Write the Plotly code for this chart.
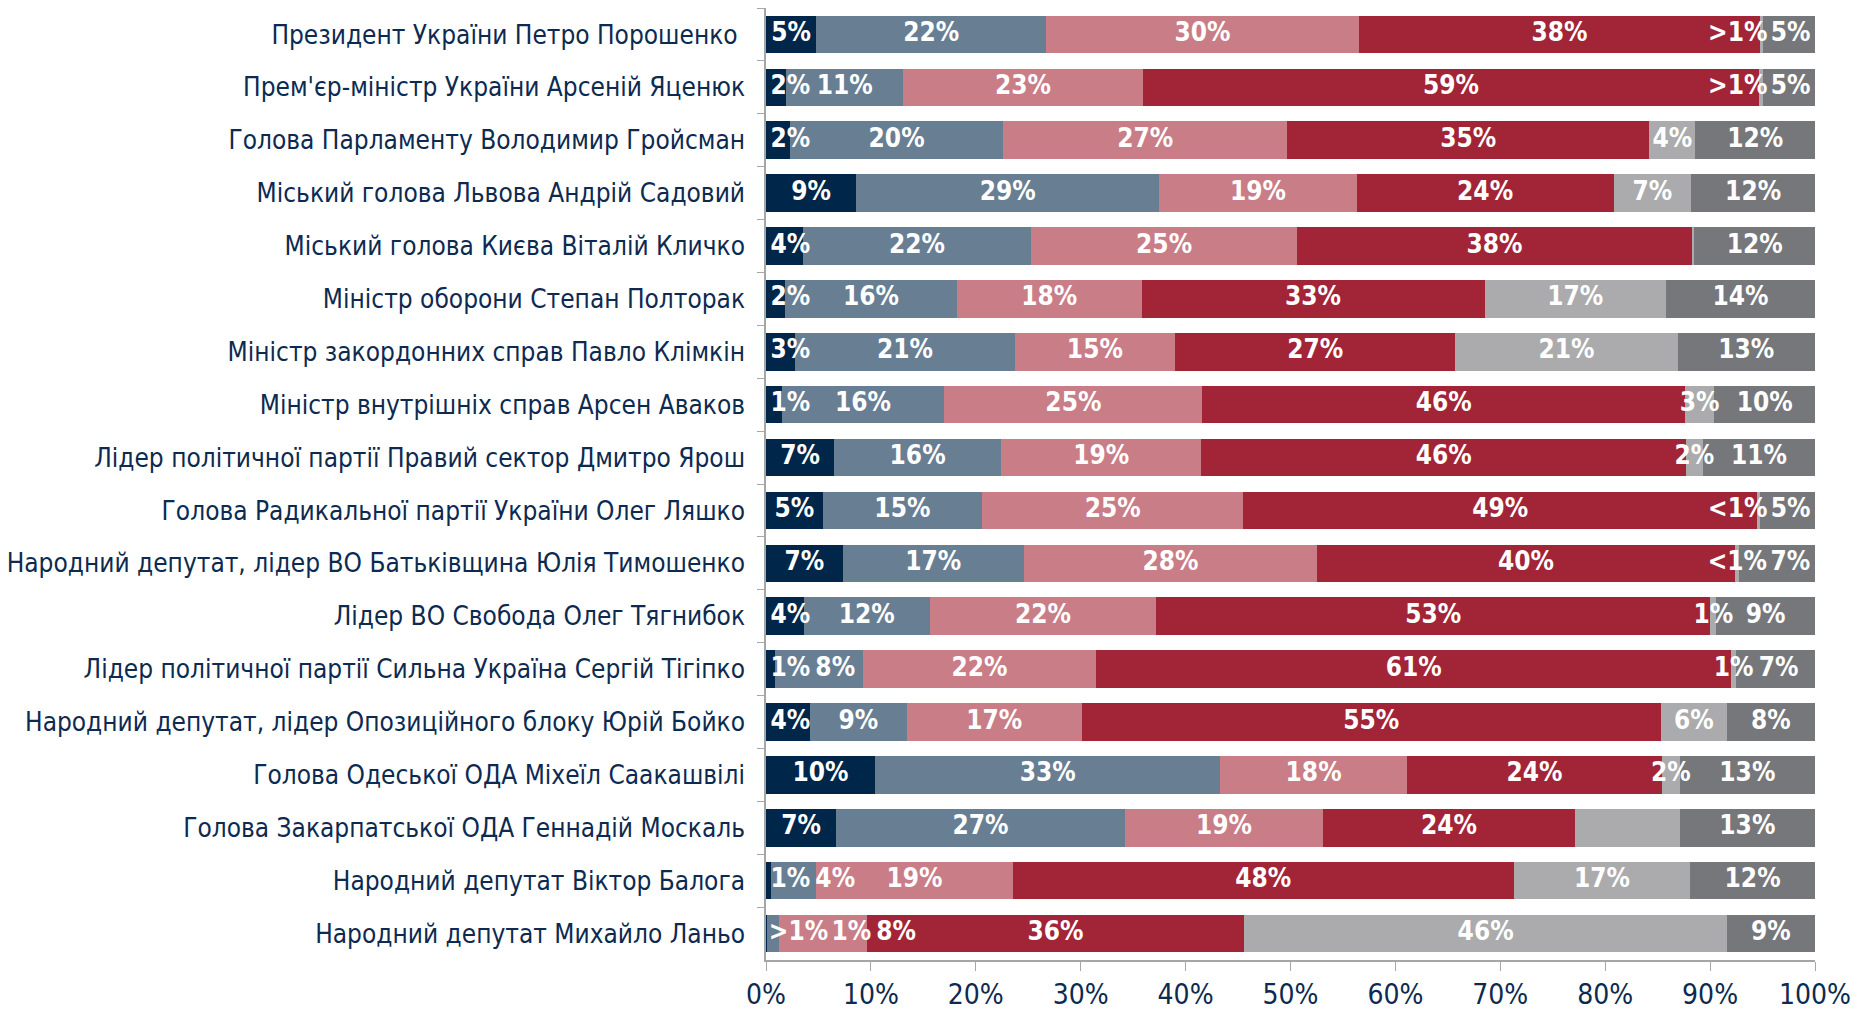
import plotly.graph_objects as go

categories = [
    "Президент України Петро Порошенко ",
    "Прем'єр-міністр України Арсеній Яценюк",
    "Голова Парламенту Володимир Гройсман",
    "Міський голова Львова Андрій Садовий",
    "Міський голова Києва Віталій Кличко",
    "Міністр оборони Степан Полторак",
    "Міністр закордонних справ Павло Клімкін",
    "Міністр внутрішніх справ Арсен Аваков",
    "Лідер політичної партії Правий сектор Дмитро Ярош",
    "Голова Радикальної партії України Олег Ляшко",
    "Народний депутат, лідер ВО Батьківщина Юлія Тимошенко",
    "Лідер ВО Свобода Олег Тягнибок",
    "Лідер політичної партії Сильна Україна Сергій Тігіпко",
    "Народний депутат, лідер Опозиційного блоку Юрій Бойко",
    "Голова Одеської ОДА Міхеїл Саакашвілі",
    "Голова Закарпатської ОДА Геннадій Москаль",
    "Народний депутат Віктор Балога",
    "Народний депутат Михайло Ланьо",
]

# segment shares (%)
s1 = [4.8, 1.9, 2.3, 8.6, 3.5, 1.8, 2.8, 1.5, 6.5, 5.4, 7.3, 3.6, 0.9, 4.2, 10.4, 6.7, 0.5, 0.1]
s2 = [21.9, 11.2, 20.3, 28.9, 21.8, 16.4, 20.9, 15.5, 15.9, 15.2, 17.3, 12.0, 8.3, 9.2, 32.9, 27.5, 4.3, 1.1]
s3 = [29.8, 22.8, 27.1, 18.8, 25.3, 17.6, 15.3, 24.6, 19.1, 24.9, 27.9, 21.6, 22.3, 16.7, 17.8, 18.9, 18.7, 8.4]
s4 = [38.3, 58.8, 34.5, 24.5, 37.7, 32.7, 26.7, 46.0, 46.2, 49.0, 39.9, 52.8, 60.5, 55.2, 24.3, 24.0, 47.8, 36.0]
s5 = [0.2, 0.3, 4.4, 7.4, 0.2, 17.3, 21.2, 2.8, 1.6, 0.3, 0.4, 0.6, 0.5, 6.3, 1.7, 10.0, 16.8, 46.0]
s6 = [5.0, 5.0, 11.4, 11.8, 11.5, 14.2, 13.1, 9.6, 10.7, 5.2, 7.2, 9.4, 7.5, 8.4, 12.9, 12.9, 11.9, 8.4]

t1 = ["5%", "2%", "2%", "9%", "4%", "2%", "3%", "1%", "7%", "5%", "7%", "4%", "1%", "4%", "10%", "7%", "1%", ">1%"]
t2 = ["22%", "11%", "20%", "29%", "22%", "16%", "21%", "16%", "16%", "15%", "17%", "12%", "8%", "9%", "33%", "27%", "4%", "1%"]
t3 = ["30%", "23%", "27%", "19%", "25%", "18%", "15%", "25%", "19%", "25%", "28%", "22%", "22%", "17%", "18%", "19%", "19%", "8%"]
t4 = ["38%", "59%", "35%", "24%", "38%", "33%", "27%", "46%", "46%", "49%", "40%", "53%", "61%", "55%", "24%", "24%", "48%", "36%"]
t5 = [">1%", ">1%", "4%", "7%", "", "17%", "21%", "3%", "2%", "<1%", "<1%", "1%", "1%", "6%", "2%", "", "17%", "46%"]
t6 = ["5%", "5%", "12%", "12%", "12%", "14%", "13%", "10%", "11%", "5%", "7%", "9%", "7%", "8%", "13%", "13%", "12%", "9%"]

tick_vals = [0, 10, 20, 30, 40, 50, 60, 70, 80, 90, 100]
tick_text = ["0%", "10%", "20%", "30%", "40%", "50%", "60%", "70%", "80%", "90%", "100%"]

colors = ["#00264a", "#687e93", "#c97d87", "#a22537", "#ababad", "#76777b"]
series = [s1, s2, s3, s4, s5, s6]
texts = [t1, t2, t3, t4, t5, t6]

CAT_FONT = "DejaVu Sans Condensed, Liberation Sans Narrow, Arial Narrow, DejaVu Sans, sans-serif"
LABEL_SIZE = 26

# layout geometry
W, H = 1852, 1012
ML, MR, MT, MB = 766, 37, 8, 52
XMAX = 100.0
PX_PER_UNIT = (W - ML - MR) / XMAX


def text_width(s):
    # rough width estimate (px) of a bold condensed label
    w = 0.0
    for ch in s:
        w += 0.95 * LABEL_SIZE if ch == "%" else 0.62 * LABEL_SIZE
    return w


fig = go.Figure()
for vals, col in zip(series, colors):
    fig.add_trace(go.Bar(
        y=categories, x=vals, orientation="h",
        marker=dict(color=col, line=dict(width=0)),
        hoverinfo="skip", showlegend=False,
    ))

# label placement: start from segment mid-points, then push apart so labels don't collide
lab_x, lab_y, lab_t = [], [], []
gap = 4.0
for i, cat in enumerate(categories):
    starts, pos = [], 0.0
    for s in series:
        starts.append(pos)
        pos += s[i]
    items = []
    for k, (s, t) in enumerate(zip(series, texts)):
        if t[i]:
            items.append([(starts[k] + s[i] / 2.0) * PX_PER_UNIT, text_width(t[i]) / 2.0, t[i]])
    prev_right = 0.0
    for it in items:
        it[0] = max(it[0], prev_right + it[1] + gap)
        prev_right = it[0] + it[1]
    next_left = XMAX * PX_PER_UNIT
    for it in reversed(items):
        it[0] = min(it[0], next_left - it[1] - gap)
        next_left = it[0] - it[1]
    for cx, hw, t in items:
        lab_x.append(cx / PX_PER_UNIT)
        lab_y.append(cat)
        lab_t.append(t)

fig.add_trace(go.Scatter(
    x=lab_x, y=lab_y, text=lab_t, mode="text", textposition="middle center",
    textfont=dict(family=CAT_FONT, size=LABEL_SIZE, color="white", weight="bold"),
    hoverinfo="skip", showlegend=False, cliponaxis=False,
))

fig.update_layout(
    barmode="stack", bargap=0.29,
    width=W, height=H,
    margin=dict(l=ML, r=MR, t=MT, b=MB, autoexpand=False),
    paper_bgcolor="white", plot_bgcolor="white",
    font=dict(family=CAT_FONT, color="#0d2a50"),
)
fig.update_yaxes(
    range=[len(categories) - 0.5, -0.5], autorange=False,
    showline=True, linecolor="#a6a6a6", linewidth=1.5,
    ticks="outside", tickson="boundaries", ticklen=7, tickcolor="#a6a6a6",
    tickfont=dict(size=26, color="#0d2a50", family=CAT_FONT),
    ticklabelstandoff=14, showgrid=False,
)
fig.update_xaxes(
    range=[0, XMAX], tickvals=tick_vals, ticktext=tick_text,
    showline=True, linecolor="#a6a6a6", linewidth=1.5,
    ticks="outside", ticklen=9, tickcolor="#a6a6a6",
    tickfont=dict(size=28, color="#0d2a50", family=CAT_FONT),
    showgrid=False, zeroline=False,
)

fig.write_html("out.html")
